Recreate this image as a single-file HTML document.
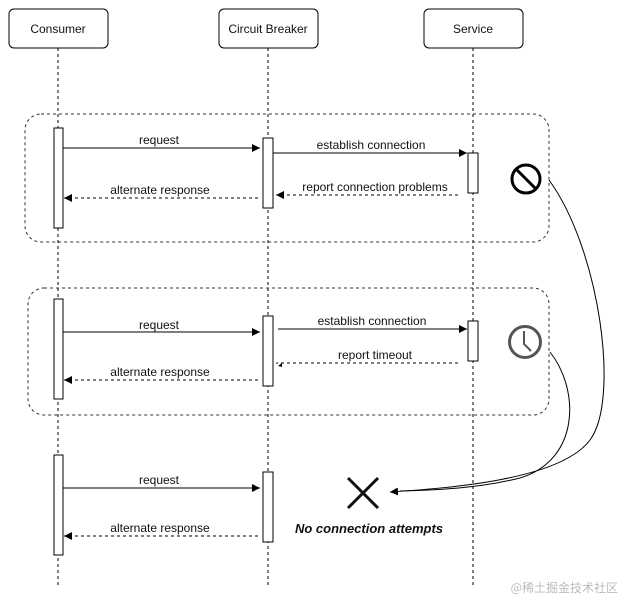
<!DOCTYPE html>
<html><head><style>body{margin:0;background:#fff}svg{display:block}text{font-family:"Liberation Sans","DejaVu Sans",sans-serif;font-size:12px;fill:#111}</style></head><body>
<svg width="621" height="599" viewBox="0 0 621 599" xmlns="http://www.w3.org/2000/svg">
<defs><marker id="a" viewBox="0 0 10 10" refX="10" refY="5" markerWidth="8" markerHeight="8" orient="auto" markerUnits="userSpaceOnUse"><path d="M0,0L10,5L0,10z" fill="#000"/></marker></defs>
<g fill="#fff" stroke="#000">
<rect x="9" y="9" width="99" height="39" rx="5"/><rect x="219" y="9" width="99" height="39" rx="5"/><rect x="424" y="9" width="99" height="39" rx="5"/></g>
<text x="58" y="33" text-anchor="middle">Consumer</text><text x="268" y="33" text-anchor="middle">Circuit Breaker</text><text x="473" y="33" text-anchor="middle">Service</text>
<g stroke="#000" stroke-dasharray="3,3"><line x1="58" y1="48" x2="58" y2="585"/><line x1="268" y1="48" x2="268" y2="585"/><line x1="473" y1="48" x2="473" y2="585"/></g>
<g fill="none" stroke="#333" stroke-dasharray="3,3"><rect x="25" y="114" width="524" height="128" rx="16"/><rect x="28" y="288" width="521" height="127" rx="16"/></g>
<g fill="#fff" stroke="#000">
<rect x="54" y="128" width="9" height="100"/><rect x="263" y="138" width="10" height="70"/><rect x="468" y="153" width="10" height="40"/>
<rect x="54" y="299" width="9" height="100"/><rect x="263" y="316" width="10" height="70"/><rect x="468" y="321" width="10" height="40"/>
<rect x="54" y="455" width="9" height="100"/><rect x="263" y="472" width="10" height="70"/></g>
<g stroke="#000" fill="none">
<line x1="63" y1="148" x2="260" y2="148" marker-end="url(#a)"/><line x1="273" y1="153" x2="467" y2="153" marker-end="url(#a)"/>
<line x1="458" y1="195" x2="276" y2="195" stroke-dasharray="3,3" marker-end="url(#a)"/><line x1="258" y1="198" x2="64" y2="198" stroke-dasharray="3,3" marker-end="url(#a)"/>
<line x1="63" y1="332" x2="260" y2="332" marker-end="url(#a)"/><line x1="278" y1="329" x2="467" y2="329" marker-end="url(#a)"/>
<line x1="458" y1="363" x2="276" y2="363" stroke-dasharray="3,3"/><line x1="258" y1="380" x2="64" y2="380" stroke-dasharray="3,3" marker-end="url(#a)"/>
<line x1="63" y1="488" x2="260" y2="488" marker-end="url(#a)"/><line x1="258" y1="536" x2="64" y2="536" stroke-dasharray="3,3" marker-end="url(#a)"/>
<path d="M549,180 C600,250 620,400 590,440 C560,480 450,488 390,492" marker-end="url(#a)"/>
<path d="M550,352 C580,390 580,460 520,478 C480,488 440,490 400,491"/>
</g>
<path d="M278,366 l4,-3 l0,4z" fill="#000"/>
<text x="159" y="144" text-anchor="middle">request</text><text x="371" y="149" text-anchor="middle">establish connection</text>
<text x="375" y="191" text-anchor="middle">report connection problems</text><text x="160" y="194" text-anchor="middle">alternate response</text>
<text x="159" y="329" text-anchor="middle">request</text><text x="372" y="325" text-anchor="middle">establish connection</text>
<text x="375" y="359" text-anchor="middle">report timeout</text><text x="160" y="376" text-anchor="middle">alternate response</text>
<text x="159" y="484" text-anchor="middle">request</text><text x="160" y="532" text-anchor="middle">alternate response</text>
<circle cx="526" cy="179" r="14" fill="none" stroke="#000" stroke-width="3"/><line x1="516" y1="169" x2="536" y2="189" stroke="#000" stroke-width="3"/>
<circle cx="525" cy="342" r="15.5" fill="none" stroke="#555" stroke-width="3"/><path d="M524,331 V344 L531,351" fill="none" stroke="#555" stroke-width="2"/>
<path d="M348,478 L378,508 M378,478 L348,508" stroke="#111" stroke-width="3"/>
<text x="369" y="533" text-anchor="middle" style="font-weight:bold;font-style:italic;font-size:13px">No connection attempts</text>
<text x="618" y="592" text-anchor="end" style="font-family:'Noto Sans CJK SC',sans-serif;font-size:12px;fill:#bbb">@稀土掘金技术社区</text>
</svg>
</body></html>
